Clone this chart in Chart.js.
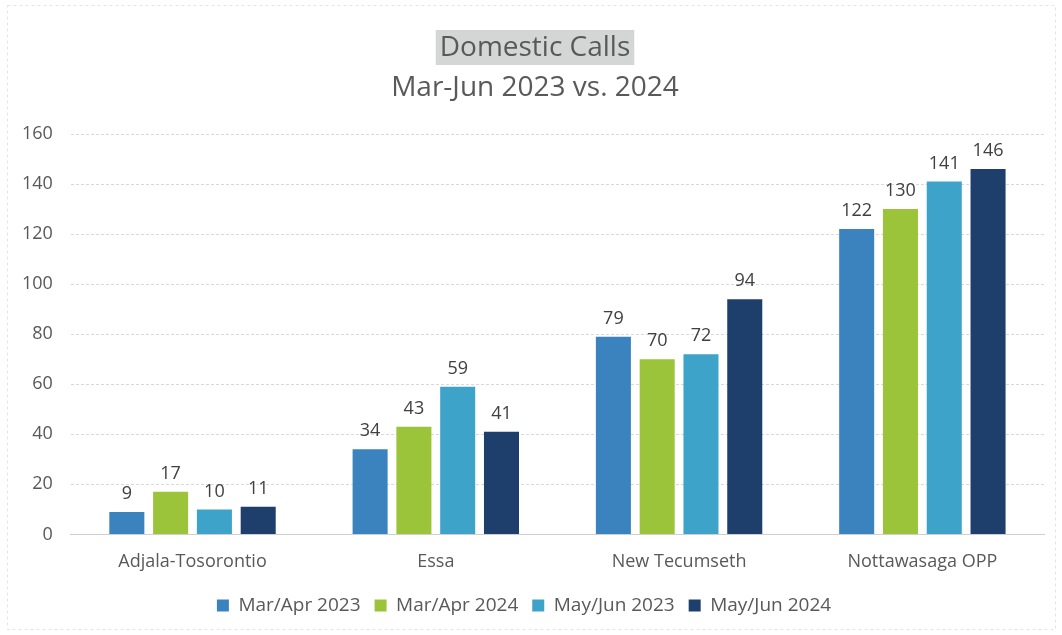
<!DOCTYPE html>
<html>
<head>
<meta charset="utf-8">
<script src="https://cdn.jsdelivr.net/npm/chart.js@4.4.0/dist/chart.umd.min.js"></script>
<style>
  html, body { margin: 0; padding: 0; background: #fff; }
  #wrap { width: 1062px; height: 635px; position: relative; }
</style>
</head>
<body>
<div id="wrap"><canvas id="callsChart"></canvas></div>
<script>
// --- data ---
const regions = ["Adjala-Tosorontio", "Essa", "New Tecumseth", "Nottawasaga OPP"];
const seriesNames = ["Mar/Apr 2023", "Mar/Apr 2024", "May/Jun 2023", "May/Jun 2024"];
const marApr2023 = [9, 34, 79, 122];
const marApr2024 = [17, 43, 70, 130];
const mayJun2023 = [10, 59, 72, 141];
const mayJun2024 = [11, 41, 94, 146];
const yTicks = [0, 20, 40, 60, 80, 100, 120, 140, 160];

const colors = ["#3b83bf", "#9cc43b", "#3ea3c9", "#1e3e6b"];
const FONT = "'Open Sans', 'DejaVu Sans', sans-serif";
const TEXT = "#595959";

// title drawn by hand (first line has a grey highlight) + faint frame
const titlePlugin = {
    id: "titleLines",
    afterDraw(chart) {
        const ctx = chart.ctx;
        const cx = 535;
        ctx.save();
        ctx.strokeStyle = "#e4e4e4";
        ctx.setLineDash([3, 3]);
        ctx.lineWidth = 1;
        ctx.strokeRect(7.5, 5.5, 1048, 624);
        ctx.setLineDash([]);
        ctx.font = "28px " + FONT;
        ctx.textAlign = "center";
        ctx.textBaseline = "middle";
        const w = ctx.measureText("Domestic Calls").width;
        ctx.fillStyle = "#d4d6d6";
        ctx.fillRect(cx - w / 2 - 4, 30, w + 8, 35);
        ctx.fillStyle = TEXT;
        ctx.fillText("Domestic Calls", cx, 48);
        ctx.fillText("Mar-Jun 2023 vs. 2024", cx, 88);
        ctx.restore();
    }
};

// value labels above bars
const valuePlugin = {
    id: "values",
    afterDatasetsDraw(chart) {
        const ctx = chart.ctx;
        ctx.save();
        ctx.font = "18px " + FONT;
        ctx.fillStyle = "#404040";
        ctx.textAlign = "center";
        ctx.textBaseline = "bottom";
        chart.data.datasets.forEach((ds, i) => {
            chart.getDatasetMeta(i).data.forEach((bar, j) => {
                ctx.fillText(ds.data[j], bar.x, bar.y - 9);
            });
        });
        ctx.restore();
    }
};

const sets = [marApr2023, marApr2024, mayJun2023, mayJun2024];

new Chart(document.getElementById("callsChart").getContext("2d"), {
    type: "bar",
    data: {
        labels: regions,
        datasets: sets.map((d, i) => ({
            label: seriesNames[i],
            data: d,
            backgroundColor: colors[i],
            barPercentage: 0.8,
            categoryPercentage: 0.72
        }))
    },
    options: {
        responsive: true,
        maintainAspectRatio: false,
        animation: false,
        layout: { padding: { top: 134, left: 4, right: 18, bottom: 10 } },
        plugins: {
            title: { display: false },
            tooltip: { enabled: false },
            legend: {
                position: "bottom",
                labels: {
                    boxWidth: 12,
                    boxHeight: 12,
                    padding: 14,
                    color: TEXT,
                    font: { family: FONT, size: 19 }
                }
            }
        },
        scales: {
            y: {
                min: 0,
                max: 160,
                afterBuildTicks(axis) { axis.ticks = yTicks.map(v => ({ value: v })); },
                ticks: { color: TEXT, font: { family: FONT, size: 18 }, padding: 18 },
                grid: { color: "#d9d9d9", drawTicks: false },
                border: { display: false, dash: [3, 2] }
            },
            x: {
                ticks: { color: TEXT, font: { family: FONT, size: 18 }, padding: 9 },
                grid: { display: false },
                border: { color: "#cfcfcf" }
            }
        }
    },
    plugins: [titlePlugin, valuePlugin]
});
</script>
</body>
</html>
